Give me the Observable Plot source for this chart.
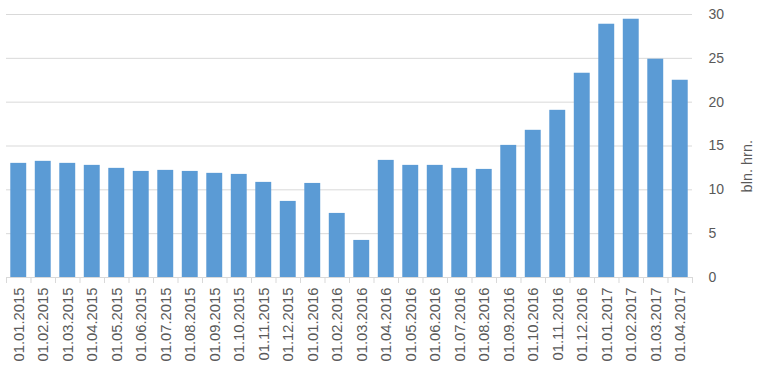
<!DOCTYPE html>
<html><head><meta charset="utf-8">
<script src="https://cdn.jsdelivr.net/npm/d3@7"></script>
<script src="https://cdn.jsdelivr.net/npm/@observablehq/plot@0.6"></script>
<style>body{margin:0;background:#fff;} svg{display:block;}</style>
</head><body><div id="chart"></div>
<script>
const dates = ["01.01.2015","01.02.2015","01.03.2015","01.04.2015","01.05.2015","01.06.2015","01.07.2015","01.08.2015","01.09.2015","01.10.2015","01.11.2015","01.12.2015","01.01.2016","01.02.2016","01.03.2016","01.04.2016","01.05.2016","01.06.2016","01.07.2016","01.08.2016","01.09.2016","01.10.2016","01.11.2016","01.12.2016","01.01.2017","01.02.2017","01.03.2017","01.04.2017"];
const values = [13.02,13.25,13.02,12.79,12.45,12.1,12.22,12.1,11.88,11.76,10.85,8.68,10.73,7.31,4.23,13.36,12.79,12.79,12.45,12.33,15.07,16.79,19.07,23.3,28.89,29.46,24.9,22.5];
const yTicks = [0,5,10,15,20,25,30];
const yLabel = "bln. hrn.";

const data = dates.map((d,i)=>({date:d, value:values[i]}));
const bw = (692-6)/dates.length;

const chart = Plot.plot({
  width: 762, height: 381,
  marginLeft: 6, marginRight: 70, marginTop: 14, marginBottom: 104,
  style: {fontFamily: "'Liberation Sans', sans-serif", fontSize: "14px", color: "#595959", background: "#fff"},
  x: {domain: dates, paddingInner: 0.35, paddingOuter: 0.175, round: false, label: null},
  y: {domain: [0,30], label: null},
  marks: [
    Plot.gridY(yTicks, {stroke: "#d9d9d9", strokeOpacity: 1}),
    Plot.barY(data, {x: "date", y: "value", fill: "#5b9bd5"}),
    Plot.ruleY([0], {stroke: "#d9d9d9"}),
    Plot.ruleX(dates, {x: d=>d, y1: 0, y2: 0, insetBottom: -6, dx: -bw/2, stroke: "#d9d9d9"}),
    Plot.ruleX([dates[dates.length-1]], {x: d=>d, y1: 0, y2: 0, insetBottom: -6, dx: bw/2, stroke: "#d9d9d9"}),
    Plot.axisX({tickRotate: -90, tickSize: 0, tickPadding: 10, fill: "#595959", fontSize: 14.8}),
    Plot.axisY({anchor: "right", ticks: yTicks, tickSize: 0, tickPadding: 16, textAnchor: "start", fill: "#595959", fontSize: 14, label: null}),
    Plot.text([yLabel], {frameAnchor: "right", rotate: -90, dx: 55, dy: -6, fill: "#595959", fontSize: 14.5})
  ]
});
document.getElementById("chart").append(chart);
</script></body></html>
